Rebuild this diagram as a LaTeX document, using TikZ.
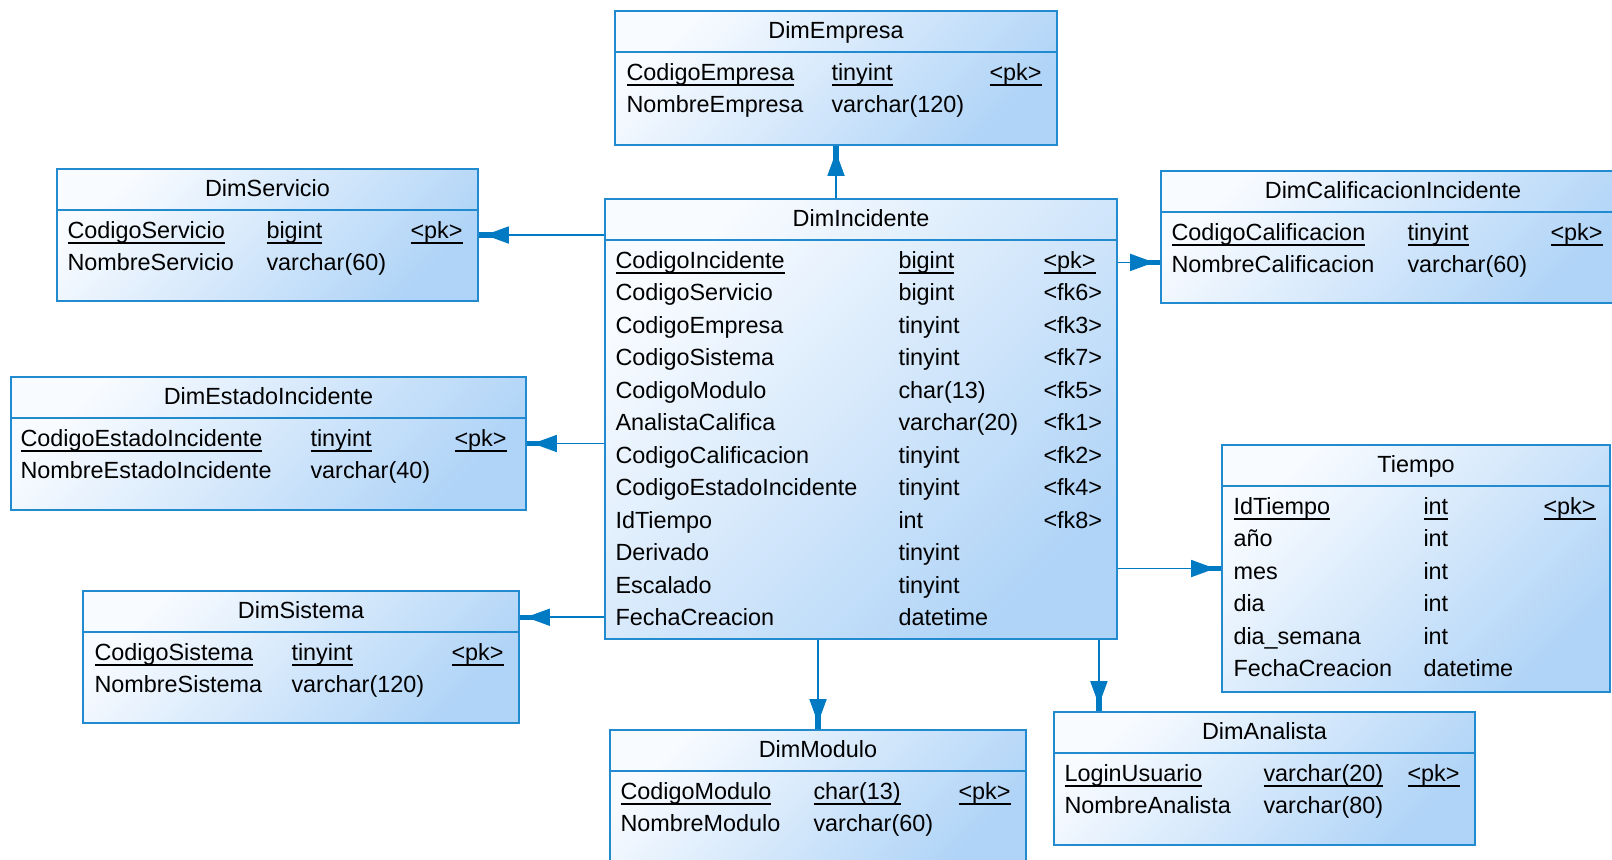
\documentclass[tikz,border=0pt]{standalone}
\usepackage{fontspec}
\setmainfont{Liberation Sans}
\usepackage{tikz}
\usetikzlibrary{arrows.meta, positioning, fit, calc}
\definecolor{erline}{RGB}{34,138,206}
\definecolor{erarrow}{RGB}{0,122,194}
\definecolor{ertop}{RGB}{248,251,255}
\definecolor{erbottom}{RGB}{176,212,247}
\newcommand{\ulkey}[1]{\setbox0=\hbox{#1}\rlap{\rule[-2.8pt]{\wd0}{0.85pt}}\box0}

\begin{document}
\begin{tikzpicture}[
    x=0.5pt, y=-0.5pt,
    font=\fontsize{11.7}{14}\selectfont,
    dimbox/.style={draw=erline, line width=0.9pt, inner sep=0pt, top color=ertop, bottom color=erbottom, shading angle=45},
    dimtitle/.style={anchor=base, inner sep=0pt},
    cell/.style={anchor=base west, inner sep=0pt},
    fk/.style={draw=erarrow, line width=0.9pt, -{Triangle[length=12pt,width=8.5pt,sep=-4pt] Rectangle[length=7pt,width=2.6pt]}}
]
    \useasboundingbox (0,0) rectangle (1612,859);
    \clip (0,0) rectangle (1612,859);

    % Tables
    \node[dimbox, fit={(615,11) (1057,145)}] (emp) {};
    \node[dimbox, fit={(57,169) (478,301)}] (srv) {};
    \node[dimbox, fit={(605,199) (1117,639)}] (inc) {};
    \node[dimbox, fit={(1161,171) (1625,303)}] (cal) {};
    \node[dimbox, fit={(11,377) (526,510)}] (est) {};
    \node[dimbox, fit={(1222,445) (1610,692)}] (tie) {};
    \node[dimbox, fit={(83,591) (519,723)}] (sis) {};
    \node[dimbox, fit={(610,730) (1026,865)}] (mod) {};
    \node[dimbox, fit={(1054,712) (1475,845)}] (ana) {};

    % Titles and header lines
    \foreach \t/\s in {emp/DimEmpresa, srv/DimServicio, inc/DimIncidente, cal/DimCalificacionIncidente,
                       est/DimEstadoIncidente, tie/Tiempo, sis/DimSistema, mod/DimModulo, ana/DimAnalista} {
        \node[dimtitle] (\t-title) at ($(\t.north)+(0,28)$) {\s};
        \draw[erline, line width=0.9pt] ($(\t.north west)+(0,42)$) -- ($(\t.north east)+(0,42)$);
    }

    % Columns
    \foreach \t/\a/\b/\c/\rows in {
        emp/12/217/375/{\ulkey{CodigoEmpresa}/\ulkey{tinyint}/\ulkey{<pk>}, NombreEmpresa/varchar(120)/},
        srv/11/210/354/{\ulkey{CodigoServicio}/\ulkey{bigint}/\ulkey{<pk>}, NombreServicio/varchar(60)/},
        inc/11/294/439/{\ulkey{CodigoIncidente}/\ulkey{bigint}/\ulkey{<pk>}, CodigoServicio/bigint/<fk6>,
            CodigoEmpresa/tinyint/<fk3>, CodigoSistema/tinyint/<fk7>, CodigoModulo/char(13)/<fk5>,
            AnalistaCalifica/varchar(20)/<fk1>, CodigoCalificacion/tinyint/<fk2>,
            CodigoEstadoIncidente/tinyint/<fk4>, IdTiempo/int/<fk8>, Derivado/tinyint/,
            Escalado/tinyint/, FechaCreacion/datetime/},
        cal/11/247/390/{\ulkey{CodigoCalificacion}/\ulkey{tinyint}/\ulkey{<pk>}, NombreCalificacion/varchar(60)/},
        est/10/300/444/{\ulkey{CodigoEstadoIncidente}/\ulkey{tinyint}/\ulkey{<pk>}, NombreEstadoIncidente/varchar(40)/},
        tie/12/202/322/{\ulkey{IdTiempo}/\ulkey{int}/\ulkey{<pk>}, año/int/, mes/int/, dia/int/,
            dia\_semana/int/, FechaCreacion/datetime/},
        sis/12/209/369/{\ulkey{CodigoSistema}/\ulkey{tinyint}/\ulkey{<pk>}, NombreSistema/varchar(120)/},
        mod/11/204/349/{\ulkey{CodigoModulo}/\ulkey{char(13)}/\ulkey{<pk>}, NombreModulo/varchar(60)/},
        ana/11/210/354/{\ulkey{LoginUsuario}/\ulkey{varchar(20)}/\ulkey{<pk>}, NombreAnalista/varchar(80)/}} {
        \foreach \n/\ty/\k [count=\i] in \rows {
            \node[cell] (\t-\i) at ($(\t.north west)+(\a,{70+32.5*(\i-1)})$) {\n};
            \node[cell] (\t-\i-type) at ($(\t.north west)+(\b,{70+32.5*(\i-1)})$) {\ty};
            \node[cell] (\t-\i-key) at ($(\t.north west)+(\c,{70+32.5*(\i-1)})$) {\k};
        }
    }

    % References
    \draw[fk] (emp.south |- inc.north) -- (emp.south);
    \draw[fk] (inc.west |- srv.east) -- (srv.east);
    \draw[fk] (inc-1 -| inc.east) -- (inc-1 -| cal.west);
    \draw[fk] (inc.west |- est.east) -- (est.east);
    \draw[fk] (inc-12 -| inc.west) -- (inc-12 -| sis.east);
    \draw[fk] (inc.east |- tie.west) -- (tie.west);
    \draw[fk] (mod.north |- inc.south) -- (mod.north);
    \draw[fk] ([xshift=-9.5pt]inc.south east) -- ([xshift=-9.5pt]inc.south east |- ana.north);
\end{tikzpicture}
\end{document}
